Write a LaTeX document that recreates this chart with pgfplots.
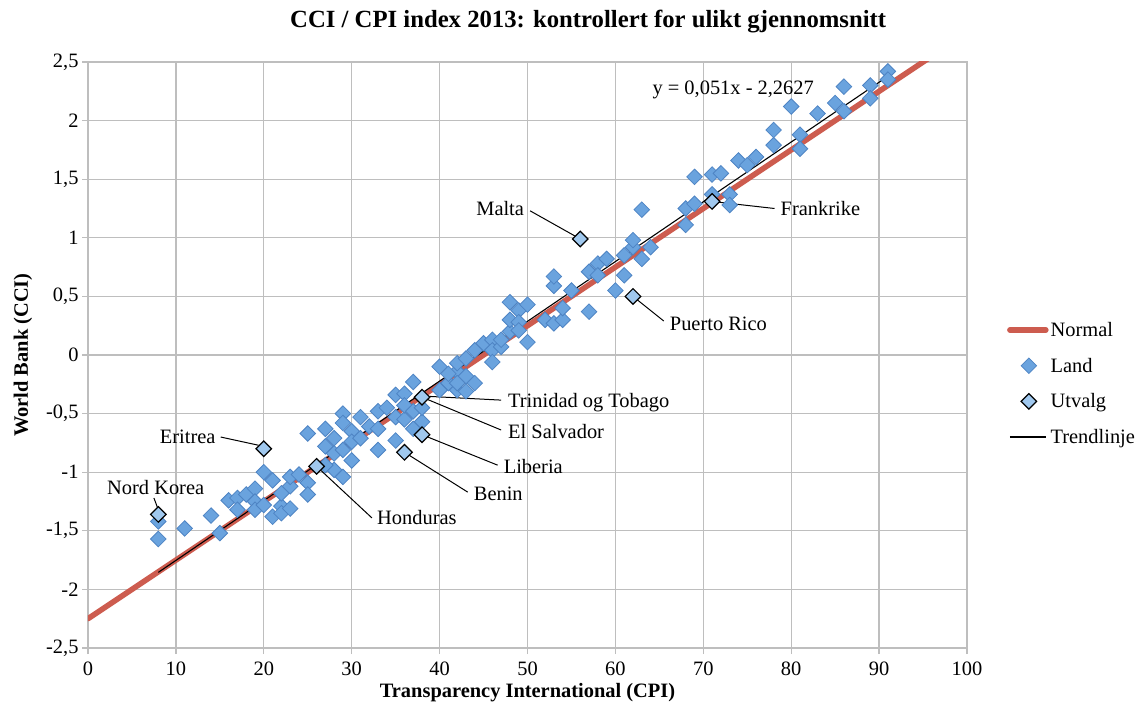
\documentclass[border=0pt]{standalone}
\usepackage{fontspec}
\setmainfont{Liberation Serif}
\usepackage{pgfplots}
\pgfplotsset{compat=1.18}
\definecolor{gridgray}{RGB}{190,190,190}
\definecolor{normalred}{RGB}{205,92,79}
\definecolor{landfill}{RGB}{106,163,222}
\definecolor{landedge}{RGB}{78,132,196}
\definecolor{utvalgfill}{RGB}{160,200,238}
\newcommand\tfont{\fontsize{20.5}{24}\selectfont}
\pgfplotsset{
  linelegend/.style={legend image code/.code={\draw[##1] (0bp,0bp) -- (36bp,0bp);}},
  marklegend/.style={legend image code/.code={\draw[mark repeat=2,mark phase=2,##1] plot coordinates {(0bp,0bp) (19bp,0bp) (38bp,0bp)};}},
}
\begin{document}
\begin{tikzpicture}
\useasboundingbox (-88bp,-56bp) rectangle (1048bp,648bp);
\begin{axis}[
  at={(0bp,0bp)}, anchor=south west,
  scale only axis, width=879bp, height=586bp,
  xmin=0, xmax=100, ymin=-2.5, ymax=2.5,
  xtick={0,10,20,30,40,50,60,70,80,90,100},
  xticklabels={{0},{10},{20},{30},{40},{50},{60},{70},{80},{90},{100}},
  ytick={-2.5,-2,-1.5,-1,-0.5,0,0.5,1,1.5,2,2.5},
  yticklabels={{-2,5},{-2},{-1,5},{-1},{-0,5},{0},{0,5},{1},{1,5},{2},{2,5}},
  xtick pos=bottom, ytick pos=left,
  grid=major, grid style={gridgray, line width=1.3bp},
  axis line style={gridgray, line width=1.3bp},
  tick style={gridgray, line width=1.3bp},
  tick align=outside, major tick length=6bp,
  tick label style={font=\tfont},
  xticklabel style={yshift=-4bp},
  /pgf/number format/assume math mode=true,
  title={\textbf{CCI / CPI index 2013: kontrollert for ulikt gjennomsnitt}},
  title style={font=\fontsize{24.8}{28}\selectfont, at={(axis description cs:0.569,1.0495)}, anchor=base},
  xlabel={\textbf{Transparency International (CPI)}},
  xlabel style={font=\tfont, at={(axis description cs:0.5,-0.085)}, anchor=base},
  ylabel={\textbf{World Bank (CCI)}},
  ylabel style={font=\tfont, at={(axis description cs:-0.0683,0.5)}, anchor=base},
  legend style={at={(axis description cs:1.042,0.563)}, anchor=north west, draw=none, fill=none,
    font=\tfont, row sep=16bp, /tikz/every even column/.append style={column sep=2bp}},
  legend cell align=left,
]
\addplot[normalred, line width=5.5bp, line cap=round, linelegend]
  coordinates {(0,-2.25) (100,2.75)};
\addlegendentry{Normal}

\addplot[only marks, mark=square*, mark size=5.5bp,
  mark options={rotate=45, fill=landfill, draw=landedge, line width=0.8bp}, marklegend]
  coordinates {
  (8,-1.42) (8,-1.57) (11,-1.48) (14,-1.37) (15,-1.52) (16,-1.24) (17,-1.22) (17,-1.32)
  (18,-1.19) (19,-1.14) (19,-1.25) (19,-1.32) (20,-1.00) (20,-1.28) (21,-1.07) (21,-1.38)
  (22,-1.29) (22,-1.35) (22,-1.18) (23,-1.31) (23,-1.12) (23,-1.04) (24,-1.02) (25,-1.09)
  (25,-1.19) (25,-0.67) (27,-0.63) (29,-0.50) (29,-0.58) (28,-0.71) (27,-0.78) (28,-0.84)
  (30,-0.65) (30,-0.74) (29,-0.81) (30,-0.90) (29,-1.04) (28,-0.98) (27,-0.94) (31,-0.53)
  (31,-0.71) (32,-0.61) (33,-0.48) (33,-0.63) (33,-0.81) (34,-0.45) (35,-0.34) (35,-0.53)
  (35,-0.73) (36,-0.33) (36,-0.55) (37,-0.63) (37,-0.23) (36,-0.43) (37,-0.48) (38,-0.57)
  (38,-0.45) (40,-0.10) (41,-0.24) (42,-0.14) (42,-0.30) (40,-0.30) (41,-0.16) (43,-0.18)
  (44,-0.24) (42,-0.24) (43,-0.31) (42,-0.07) (43,-0.03) (44,0.04) (45,0.10) (46,0.13)
  (46,0.04) (46,-0.06) (47,0.07) (47,0.13) (48,0.20) (48,0.30) (48,0.45) (49,0.38)
  (49,0.28) (49,0.21) (50,0.43) (50,0.11) (52,0.30) (53,0.27) (53,0.59) (53,0.67)
  (54,0.30) (54,0.40) (55,0.55) (57,0.37) (57,0.71) (58,0.78) (58,0.68) (59,0.82)
  (60,0.55) (61,0.68) (61,0.85) (62,0.92) (62,0.98) (63,0.82) (63,1.24) (64,0.92)
  (68,1.11) (68,1.25) (69,1.29) (69,1.52) (71,1.37) (71,1.54) (72,1.55) (73,1.37)
  (73,1.28) (74,1.66) (75,1.62) (76,1.69) (78,1.79) (78,1.92) (80,2.12) (81,1.88)
  (81,1.76) (83,2.06) (85,2.15) (86,2.08) (86,2.29) (89,2.30) (89,2.19) (91,2.42) (91,2.35)
  };
\addlegendentry{Land}

% leader lines
\draw[black, line width=1bp] (axis cs:7.5,-1.22) -- (axis cs:7.9,-1.30);
\draw[black, line width=1bp] (axis cs:15.1,-0.70) -- (axis cs:19.4,-0.77);
\draw[black, line width=1bp] (axis cs:26,-0.95) -- (axis cs:32.3,-1.39);
\draw[black, line width=1bp] (axis cs:36,-0.83) -- (axis cs:43.2,-1.17);
\draw[black, line width=1bp] (axis cs:38,-0.68) -- (axis cs:46.6,-0.94);
\draw[black, line width=1bp] (axis cs:38,-0.36) -- (axis cs:47,-0.64);
\draw[black, line width=1bp] (axis cs:38,-0.35) -- (axis cs:47,-0.385);
\draw[black, line width=1bp] (axis cs:50.3,1.23) -- (axis cs:56,0.99);
\draw[black, line width=1bp] (axis cs:62,0.5) -- (axis cs:65.5,0.29);
\draw[black, line width=1bp] (axis cs:71,1.31) -- (axis cs:78.1,1.25);

\addplot[only marks, mark=square*, mark size=5.5bp,
  mark options={rotate=45, fill=utvalgfill, draw=black, line width=1.2bp}, marklegend]
  coordinates {(8,-1.36) (20,-0.80) (26,-0.95) (36,-0.83) (38,-0.68) (38,-0.36) (56,0.99) (62,0.50) (71,1.31)};
\addlegendentry{Utvalg}

\addplot[black, line width=1.1bp, linelegend]
  coordinates {(8,-1.8547) (91,2.3783)};
\addlegendentry{Trendlinje}

\node[font=\tfont, anchor=base] at (axis cs:7.7,-1.19) {Nord Korea};
\node[font=\tfont, anchor=base east] at (axis cs:14.9,-0.755) {Eritrea};
\node[font=\tfont, anchor=base west] at (axis cs:32.5,-1.45) {Honduras};
\node[font=\tfont, anchor=base west] at (axis cs:43.5,-1.24) {Benin};
\node[font=\tfont, anchor=base west] at (axis cs:46.9,-1.01) {Liberia};
\node[font=\tfont, anchor=base west] at (axis cs:47.4,-0.71) {El Salvador};
\node[font=\tfont, anchor=base west] at (axis cs:47.4,-0.445) {Trinidad og Tobago};
\node[font=\tfont, anchor=base east] at (axis cs:50.0,1.19) {Malta};
\node[font=\tfont, anchor=base west] at (axis cs:65.8,0.21) {Puerto Rico};
\node[font=\tfont, anchor=base west] at (axis cs:78.4,1.19) {Frankrike};
\node[font=\tfont, anchor=base] at (axis cs:73.4,2.225) {y = 0,051x - 2,2627};
\end{axis}
\end{tikzpicture}
\end{document}
